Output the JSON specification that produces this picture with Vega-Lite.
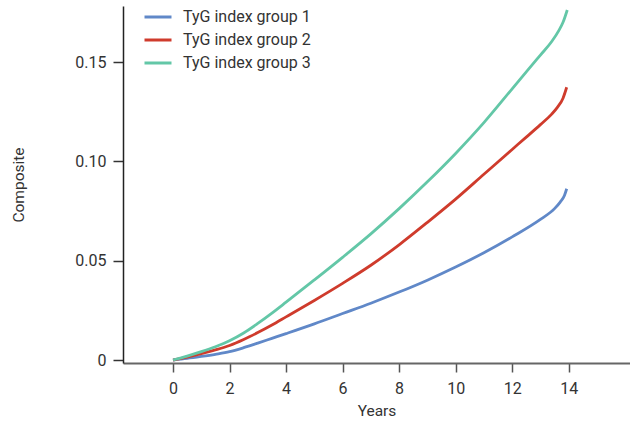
{
  "$schema": "https://vega.github.io/schema/vega-lite/v6.json",
  "width": 507,
  "height": 357,
  "autosize": {"type": "none"},
  "padding": {"left": 123, "top": 6, "right": 0, "bottom": 61},
  "background": "white",
  "config": {
    "view": {"stroke": null},
    "font": "Roboto",
    "axis": {"grid": false, "labelFont": "Roboto", "titleFont": "Roboto", "labelColor": "#333", "titleColor": "#333", "labelFontSize": 16, "titleFontSize": 15.5, "titleFontWeight": "normal"}
  },
  "data": {"values": [
    {"g": "TyG index group 1", "t": 0, "v": 0},
    {"g": "TyG index group 1", "t": 0.5, "v": 0.0008},
    {"g": "TyG index group 1", "t": 1, "v": 0.0018},
    {"g": "TyG index group 1", "t": 1.5, "v": 0.0029},
    {"g": "TyG index group 1", "t": 2, "v": 0.0042},
    {"g": "TyG index group 1", "t": 2.5, "v": 0.0062},
    {"g": "TyG index group 1", "t": 3, "v": 0.0085},
    {"g": "TyG index group 1", "t": 3.5, "v": 0.0109},
    {"g": "TyG index group 1", "t": 4, "v": 0.0133},
    {"g": "TyG index group 1", "t": 5, "v": 0.0182},
    {"g": "TyG index group 1", "t": 6, "v": 0.0234},
    {"g": "TyG index group 1", "t": 7, "v": 0.0286},
    {"g": "TyG index group 1", "t": 8, "v": 0.0342},
    {"g": "TyG index group 1", "t": 9, "v": 0.0402},
    {"g": "TyG index group 1", "t": 10, "v": 0.0468},
    {"g": "TyG index group 1", "t": 11, "v": 0.0540},
    {"g": "TyG index group 1", "t": 12, "v": 0.0620},
    {"g": "TyG index group 1", "t": 13, "v": 0.0708},
    {"g": "TyG index group 1", "t": 13.5, "v": 0.0762},
    {"g": "TyG index group 1", "t": 13.7, "v": 0.0795},
    {"g": "TyG index group 1", "t": 13.85, "v": 0.0828},
    {"g": "TyG index group 1", "t": 13.93, "v": 0.0862},
    {"g": "TyG index group 2", "t": 0, "v": 0},
    {"g": "TyG index group 2", "t": 0.5, "v": 0.0015},
    {"g": "TyG index group 2", "t": 1, "v": 0.0032},
    {"g": "TyG index group 2", "t": 1.5, "v": 0.0051},
    {"g": "TyG index group 2", "t": 2, "v": 0.0073},
    {"g": "TyG index group 2", "t": 2.5, "v": 0.0103},
    {"g": "TyG index group 2", "t": 3, "v": 0.0138},
    {"g": "TyG index group 2", "t": 3.5, "v": 0.0176},
    {"g": "TyG index group 2", "t": 4, "v": 0.0217},
    {"g": "TyG index group 2", "t": 5, "v": 0.0300},
    {"g": "TyG index group 2", "t": 6, "v": 0.0386},
    {"g": "TyG index group 2", "t": 7, "v": 0.0477},
    {"g": "TyG index group 2", "t": 8, "v": 0.0580},
    {"g": "TyG index group 2", "t": 9, "v": 0.0693},
    {"g": "TyG index group 2", "t": 10, "v": 0.0810},
    {"g": "TyG index group 2", "t": 11, "v": 0.0935},
    {"g": "TyG index group 2", "t": 12, "v": 0.1060},
    {"g": "TyG index group 2", "t": 12.5, "v": 0.1122},
    {"g": "TyG index group 2", "t": 13, "v": 0.1185},
    {"g": "TyG index group 2", "t": 13.4, "v": 0.1238},
    {"g": "TyG index group 2", "t": 13.6, "v": 0.1272},
    {"g": "TyG index group 2", "t": 13.8, "v": 0.1318},
    {"g": "TyG index group 2", "t": 13.93, "v": 0.1373},
    {"g": "TyG index group 3", "t": 0, "v": 0},
    {"g": "TyG index group 3", "t": 0.5, "v": 0.0020},
    {"g": "TyG index group 3", "t": 1, "v": 0.0042},
    {"g": "TyG index group 3", "t": 1.5, "v": 0.0067},
    {"g": "TyG index group 3", "t": 2, "v": 0.0097},
    {"g": "TyG index group 3", "t": 2.5, "v": 0.0136},
    {"g": "TyG index group 3", "t": 3, "v": 0.0184},
    {"g": "TyG index group 3", "t": 3.5, "v": 0.0236},
    {"g": "TyG index group 3", "t": 4, "v": 0.0291},
    {"g": "TyG index group 3", "t": 5, "v": 0.0403},
    {"g": "TyG index group 3", "t": 6, "v": 0.0517},
    {"g": "TyG index group 3", "t": 7, "v": 0.0635},
    {"g": "TyG index group 3", "t": 8, "v": 0.0762},
    {"g": "TyG index group 3", "t": 9, "v": 0.0897},
    {"g": "TyG index group 3", "t": 10, "v": 0.1040},
    {"g": "TyG index group 3", "t": 11, "v": 0.1195},
    {"g": "TyG index group 3", "t": 12, "v": 0.1365},
    {"g": "TyG index group 3", "t": 12.5, "v": 0.1450},
    {"g": "TyG index group 3", "t": 13, "v": 0.1535},
    {"g": "TyG index group 3", "t": 13.4, "v": 0.1603},
    {"g": "TyG index group 3", "t": 13.65, "v": 0.1658},
    {"g": "TyG index group 3", "t": 13.8, "v": 0.1700},
    {"g": "TyG index group 3", "t": 13.95, "v": 0.1762}
  ]},
  "mark": {"type": "line", "strokeWidth": 2.8, "interpolate": "monotone"},
  "encoding": {
    "x": {"field": "t", "type": "quantitative",
      "scale": {"domain": [-1.77, 16.17], "nice": false, "zero": false},
      "axis": {"title": "Years", "values": [0, 2, 4, 6, 8, 10, 12, 14], "domainColor": "#666", "domainWidth": 2, "tickColor": "#555", "tickWidth": 1.5, "tickSize": 9, "labelPadding": 8, "titlePadding": 7}},
    "y": {"field": "v", "type": "quantitative",
      "scale": {"domain": [-0.0015, 0.1782], "nice": false, "zero": false},
      "axis": {"title": "Composite", "values": [0, 0.05, 0.1, 0.15], "labelExpr": "datum.value == 0 ? '0' : format(datum.value, '.2f')", "domainColor": "#222", "domainWidth": 1.5, "tickColor": "#333", "tickWidth": 1.5, "tickSize": 10, "labelPadding": 7, "titlePadding": 48}},
    "color": {"field": "g", "type": "nominal",
      "scale": {"domain": ["TyG index group 1", "TyG index group 2", "TyG index group 3"], "range": ["#6088c8", "#cf3b2c", "#63c7a7"]},
      "legend": {"title": null, "orient": "none", "legendX": 20, "legendY": -4, "symbolType": "stroke", "symbolSize": 729, "symbolStrokeWidth": 3, "labelFontSize": 16, "labelColor": "#333", "labelFont": "Roboto", "rowPadding": -1, "labelOffset": 10}}
  }
}
